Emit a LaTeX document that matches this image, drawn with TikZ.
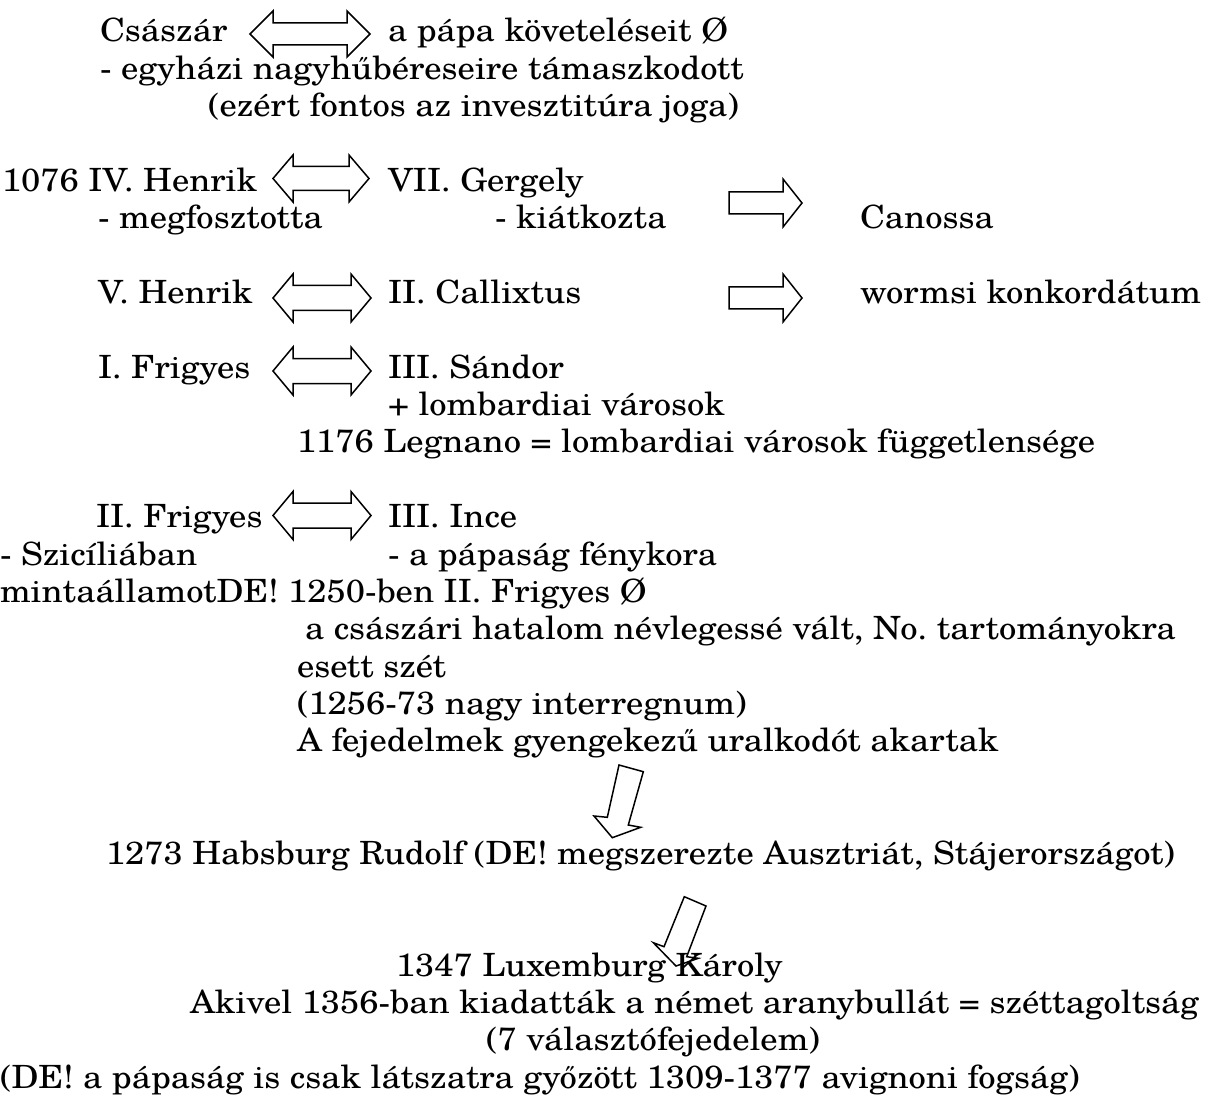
\documentclass[tikz,border=0pt]{standalone}
\usepackage{fontspec}
\setmainfont{TeX Gyre Schola}[FakeStretch=1.08]
\newcommand\dblarr[6]{%
  \draw[barrow] (#1,#3) -- ({#1+#4},{#3-#5}) -- ({#1+#4},{#3-#6}) -- ({#2-#4},{#3-#6}) -- ({#2-#4},{#3-#5}) -- (#2,#3) -- ({#2-#4},{#3+#5}) -- ({#2-#4},{#3+#6}) -- ({#1+#4},{#3+#6}) -- ({#1+#4},{#3+#5}) -- cycle;}
\newcommand\rarr[6]{%
  \draw[barrow] (#1,{#3-#6}) -- ({#2-#4},{#3-#6}) -- ({#2-#4},{#3-#5}) -- (#2,#3) -- ({#2-#4},{#3+#5}) -- ({#2-#4},{#3+#6}) -- (#1,{#3+#6}) -- cycle;}
\begin{document}
\frenchspacing
\begin{tikzpicture}[x=1pt,y=-1pt,
  txt/.style={anchor=base west, inner sep=0pt, outer sep=0pt, font=\fontsize{32}{37}\selectfont},
  barrow/.style={draw=black, line width=1.5pt, fill=white, line join=miter}]
\useasboundingbox (0,0) rectangle (1205,1099);
% line 1-3
\node[txt] (t1a) at (100,42) {Császár};
\node[txt] (t1b) at (388,42) {a pápa követeléseit Ø};
\node[txt] (t2) at (100,79.4) {- egyházi nagyhűbéreseire támaszkodott};
\node[txt] (t3) at (208,116.7) {(ezért fontos az invesztitúra joga)};
% 1076
\node[txt] (t5a) at (2,191.4) {1076 IV. Henrik};
\node[txt] (t5b) at (388,191.4) {VII. Gergely};
\node[txt] (t6a) at (98,228.8) {- megfosztotta};
\node[txt] (t6b) at (495,228.8) {- kiátkozta};
\node[txt] (t6c) at (860,228.8) {Canossa};
% V. Henrik
\node[txt] (t8a) at (98,303.5) {V. Henrik};
\node[txt] (t8b) at (388,303.5) {II. Callixtus};
\node[txt] (t8c) at (860,303.5) {wormsi konkordátum};
% I. Frigyes
\node[txt] (t10a) at (98,378.2) {I. Frigyes};
\node[txt] (t10b) at (388,378.2) {III. Sándor};
\node[txt] (t11) at (388,415.6) {+ lombardiai városok};
\node[txt] (t12) at (297,452.9) {1176 Legnano = lombardiai városok függetlensége};
% II. Frigyes
\node[txt] (t14a) at (96,527.7) {II. Frigyes};
\node[txt] (t14b) at (388,527.7) {III. Ince};
\node[txt] (t15a) at (0,565) {- Szicíliában};
\node[txt] (t15b) at (388,565) {- a pápaság fénykora};
\node[txt] (t16) at (0,602.4) {mintaállamotDE! 1250-ben II. Frigyes Ø};
\node[txt] (t17) at (305,639.8) {a császári hatalom névlegessé vált, No. tartományokra};
\node[txt] (t18) at (297,677.1) {esett szét};
\node[txt] (t19) at (297,714.5) {(1256-73 nagy interregnum)};
\node[txt] (t20) at (297,751.8) {A fejedelmek gyengekezű uralkodót akartak};
\node[txt] (t23) at (106,864) {1273 Habsburg Rudolf (DE! megszerezte Ausztriát, Stájerországot)};
\node[txt] (t26) at (396,976) {1347 Luxemburg Károly};
\node[txt] (t27) at (190,1013.4) {Akivel 1356-ban kiadatták a német aranybullát = széttagoltság};
\node[txt] (t28) at (486,1050.7) {(7 választófejedelem)};
\node[txt] (t29) at (0,1088) {(DE! a pápaság is csak látszatra győzött 1309-1377 avignoni fogság)};
% double arrows
\dblarr{250}{370}{34}{23}{23}{11}
\dblarr{273}{369}{178.5}{20}{23.5}{12}
\dblarr{273}{371}{298}{20}{24}{12.5}
\dblarr{273}{371}{371}{20}{24}{12.5}
\dblarr{273}{371}{515.5}{20}{24}{12.5}
% right arrows
\rarr{729}{802}{203}{19}{24}{11}
\rarr{729}{802}{298}{19}{24}{11}
% tilted down arrows
\draw[barrow] (619,765) -- (643.3,771.7) -- (628.3,825) -- (640.7,827.3) -- (612.3,837.7) -- (594,816) -- (607.3,817.3) -- cycle;
\draw[barrow, fill=none] (684.3,896.7) -- (706,906) -- (686.7,956.7) -- (698.3,958.3) -- (676,966) -- (653.3,942.7) -- (664,946.7) -- cycle;
\end{tikzpicture}
\end{document}
